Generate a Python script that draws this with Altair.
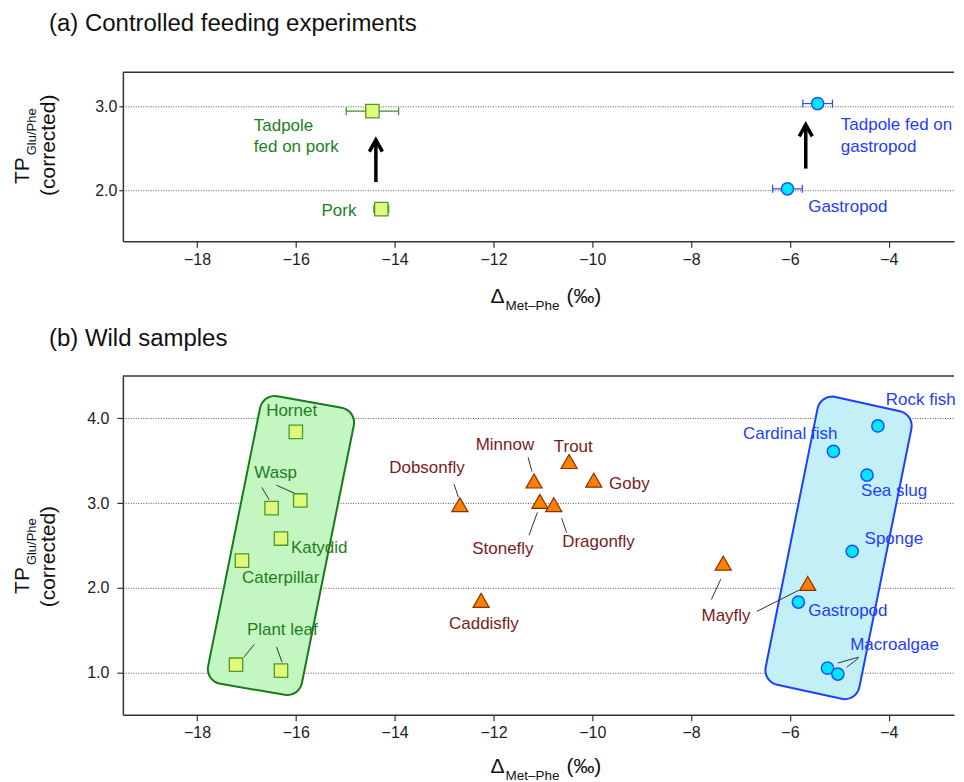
import math
import numpy as np
import pandas as pd
import altair as alt

FONT = "Liberation Sans"

# ---------------- data: panel (a) controlled feeding ----------------
a_names = ["Pork", "Tadpole fed on pork", "Gastropod", "Tadpole fed on gastropod"]
a_group = ["pork", "pork", "gastropod", "gastropod"]
a_x = [-14.27, -14.45, -6.05, -5.44]
a_xerr = [0.15, 0.53, 0.30, 0.30]
a_y = [1.78, 2.94, 2.02, 3.03]

arrow_x = [-14.38, -5.68]
arrow_base = [2.10, 2.26]
arrow_shaft_top = [2.57, 2.75]
arrow_tip = [2.60, 2.78]

a_lbl_text = ["Tadpole", "fed on pork", "Pork", "Tadpole fed on", "gastropod", "Gastropod"]
a_lbl_x = [-16.85, -16.85, -15.48, -4.97, -4.97, -5.63]
a_lbl_y = [2.77, 2.52, 1.76, 2.78, 2.52, 1.80]
a_lbl_group = ["pork", "pork", "pork", "gastropod", "gastropod", "gastropod"]

# ---------------- data: panel (b) wild samples ----------------
b_names = ["Hornet", "Wasp", "Wasp", "Katydid", "Caterpillar", "Plant leaf", "Plant leaf",
           "Dobsonfly", "Minnow", "Trout", "Goby", "Stonefly", "Dragonfly", "Caddisfly",
           "Mayfly", "Mayfly",
           "Rock fish", "Cardinal fish", "Sea slug", "Sponge", "Gastropod", "Macroalgae", "Macroalgae"]
b_group = ["terrestrial"] * 7 + ["freshwater"] * 9 + ["marine"] * 7
b_x = [-16.00, -16.49, -15.91, -16.30, -17.09, -17.21, -16.30,
       -12.68, -11.18, -10.47, -9.97, -11.06, -10.78, -12.25, -7.35, -5.64,
       -4.22, -5.12, -4.44, -4.74, -5.83, -5.24, -5.03]
b_y = [3.84, 2.94, 3.03, 2.58, 2.32, 1.09, 1.02,
       2.98, 3.26, 3.49, 3.27, 3.02, 2.98, 1.85, 2.29, 2.05,
       3.91, 3.61, 3.33, 2.43, 1.83, 1.05, 0.98]

b_lbl_text = ["Hornet", "Wasp", "Katydid", "Caterpillar", "Plant leaf",
              "Dobsonfly", "Minnow", "Trout", "Goby", "Stonefly", "Dragonfly", "Caddisfly", "Mayfly",
              "Rock fish", "Cardinal fish", "Sea slug", "Sponge", "Gastropod", "Macroalgae"]
b_lbl_group = ["terrestrial"] * 5 + ["freshwater"] * 8 + ["marine"] * 6
b_lbl_x = [-16.60, -16.84, -16.10, -17.09, -16.99,
           -14.11, -12.36, -10.78, -9.66, -12.43, -10.61, -12.90, -7.79,
           -4.06, -6.95, -4.56, -4.49, -5.63, -4.78]
b_lbl_y = [4.09, 3.36, 2.47, 2.12, 1.50,
           3.41, 3.68, 3.66, 3.23, 2.46, 2.54, 1.57, 1.67,
           4.22, 3.81, 3.14, 2.57, 1.73, 1.32]

# leader lines (x1, y1, x2, y2)
lead_x1 = [-16.69, -16.39, -16.84, -16.39, -12.80, -11.30, -11.11, -10.62, -7.40, -6.67, -5.03, -4.85]
lead_y1 = [3.185, 3.21, 1.33, 1.30, 3.225, 3.54, 2.89, 2.82, 2.10, 1.72, 1.11, 1.06]
lead_x2 = [-16.54, -16.01, -17.05, -16.28, -12.71, -11.22, -11.28, -10.52, -7.59, -5.82, -4.61, -4.61]
lead_y2 = [3.04, 3.11, 1.18, 1.12, 3.07, 3.37, 2.62, 2.65, 1.86, 1.97, 1.18, 1.17]

# enclosure corners (data units)
green_corners = [(-16.665, 4.292), (-14.766, 4.093), (-15.935, 0.706), (-17.836, 0.895)]
blue_corners = [(-5.381, 4.292), (-3.484, 4.047), (-4.655, 0.649), (-6.550, 0.890)]

# ---------------- styling ----------------
W = 832
XDOM = [-19.5, -2.68]
HA, HB = 169, 339
YDOM_A = [1.4, 3.4]
YDOM_B = [0.5, 4.5]
LBL = 17

TXT_COLORS = {"pork": "#1f7d1f", "terrestrial": "#1f7d1f",
              "freshwater": "#7a1c1c",
              "gastropod": "#1d3dff", "marine": "#1d3dff"}
ERR_COLORS = {"pork": "#3d8f2a", "gastropod": "#2a4fe8"}
AX = "#333333"

xscale = alt.Scale(domain=XDOM, nice=False, zero=False)
xaxis = alt.Axis(values=list(range(-18, -3, 2)), format="d", title=None, grid=False,
                 tickSize=6, tickColor=AX, tickWidth=1.2, domainColor=AX, domainWidth=1.5,
                 labelFont=FONT, labelFontSize=16, labelColor="#222", labelPadding=4)


def yaxis(vals, ts, lp):
    return alt.Axis(values=vals, format=".1f", title=None, grid=True, gridDash=[1, 1.5],
                    gridColor="#555", gridWidth=1, tickSize=ts, tickColor=AX, tickWidth=1.2,
                    domainColor=AX, domainWidth=1.5, labelFont=FONT, labelFontSize=16,
                    labelColor="#222", labelPadding=lp)


ya_scale = alt.Scale(domain=YDOM_A, nice=False, zero=False)
yb_scale = alt.Scale(domain=YDOM_B, nice=False, zero=False)
ya_axis = yaxis([2, 3], 4, 2)
yb_axis = yaxis([1, 2, 3, 4], 6, 8)


def XA(f):
    return alt.X(f, type="quantitative", scale=xscale, axis=xaxis)


def YA(f):
    return alt.Y(f, type="quantitative", scale=ya_scale, axis=ya_axis)


def YB(f):
    return alt.Y(f, type="quantitative", scale=yb_scale, axis=yb_axis)


def rounded(corners, r, sx, sy, n=10):
    P = np.array([[cx * sx, cy * sy] for cx, cy in corners])
    out = []
    m = len(P)
    for i in range(m):
        cur, prv, nxt = P[i], P[i - 1], P[(i + 1) % m]
        v1 = (prv - cur) / np.linalg.norm(prv - cur)
        v2 = (nxt - cur) / np.linalg.norm(nxt - cur)
        th = math.acos(float(np.clip(v1 @ v2, -1, 1)))
        d = r / math.tan(th / 2)
        t1 = cur + v1 * d
        t2 = cur + v2 * d
        bis = (v1 + v2) / np.linalg.norm(v1 + v2)
        c = cur + bis * (r / math.sin(th / 2))
        a1 = math.atan2(t1[1] - c[1], t1[0] - c[0])
        a2 = math.atan2(t2[1] - c[1], t2[0] - c[0])
        da = (a2 - a1 + math.pi) % (2 * math.pi) - math.pi
        for k in range(n + 1):
            a = a1 + da * k / n
            out.append(c + r * np.array([math.cos(a), math.sin(a)]))
    out.append(out[0])
    arr = np.array(out)
    return pd.DataFrame({"x": arr[:, 0] / sx, "y": arr[:, 1] / sy, "i": np.arange(len(arr))})


def txt(text, x, y, size, align="left", baseline="alphabetic", angle=0, color="#111"):
    kw = dict(text=text, font=FONT, fontSize=size, align=align, baseline=baseline, color=color)
    if angle:
        kw["angle"] = angle
    return alt.Chart(pd.DataFrame({"k": [0]})).mark_text(**kw).encode(x=alt.value(x), y=alt.value(y))


def frame_titles(title, title_y, H, ytitle, xt_dy):
    tp_top, sub_start, corr_c = ytitle
    return [
        txt(title, -74, title_y, 24),
        txt("TP", -93.5, tp_top, 21, align="right", angle=270),
        txt("Glu/Phe", -86.5, sub_start, 13, align="left", angle=270),
        txt("(corrected)", -68, corr_c, 21, align="center", angle=270),
        txt("\u0394", 368, H + xt_dy, 21),
        txt("Met\u2013Phe", 383, H + xt_dy + 7, 13.5),
        txt("(\u2030)", 444, H + xt_dy, 21),
    ]


# ---------------- panel (a) ----------------
dfa = pd.DataFrame({"name": a_names, "g": a_group, "x": a_x, "y": a_y,
                    "lo": [v - e for v, e in zip(a_x, a_xerr)],
                    "hi": [v + e for v, e in zip(a_x, a_xerr)]})
dfa["ec"] = dfa["g"].map(ERR_COLORS)
dfa_lbl = pd.DataFrame({"t": a_lbl_text, "x": a_lbl_x, "y": a_lbl_y, "g": a_lbl_group})
dfa_lbl["c"] = dfa_lbl["g"].map(TXT_COLORS)
dfarrow = pd.DataFrame({"x": arrow_x, "y0": arrow_base, "y1": arrow_shaft_top, "tip": arrow_tip})

top_a = alt.Chart(pd.DataFrame({"y": [YDOM_A[1]]})).mark_rule(color=AX, strokeWidth=1.5).encode(
    y=YA("y"), x=alt.value(0), x2=alt.value(W))

err_col = alt.Color("ec:N", scale=None)
a_err = alt.Chart(dfa).mark_rule(strokeWidth=1.2).encode(x=XA("lo"), x2="hi", y=YA("y"), color=err_col)
a_cap_lo = alt.Chart(dfa).mark_tick(orient="vertical", size=8, thickness=1.2, opacity=1).encode(
    x=XA("lo"), y=YA("y"), color=err_col)
a_cap_hi = alt.Chart(dfa).mark_tick(orient="vertical", size=8, thickness=1.2, opacity=1).encode(
    x=XA("hi"), y=YA("y"), color=err_col)
a_sq = alt.Chart(dfa[dfa.g == "pork"]).mark_point(shape="square", filled=True, size=180, fill="#e0f87c",
                                                  stroke="#4c9a2a", strokeWidth=1.3, opacity=1).encode(
    x=XA("x"), y=YA("y"))
a_ci = alt.Chart(dfa[dfa.g == "gastropod"]).mark_point(shape="circle", filled=True, size=150, fill="#00e8f8",
                                                       stroke="#2050ff", strokeWidth=1.5, opacity=1).encode(
    x=XA("x"), y=YA("y"))
a_shaft = alt.Chart(dfarrow).mark_rule(color="black", strokeWidth=3.5).encode(x=XA("x"), y=YA("y0"), y2="y1")
a_head = alt.Chart(dfarrow).mark_point(shape="M-1,1.8L0,0L1,1.8", filled=False, stroke="black",
                                       strokeWidth=3.5, size=170, opacity=1, strokeJoin="miter").encode(
    x=XA("x"), y=YA("tip"))
a_lbl = alt.Chart(dfa_lbl).mark_text(font=FONT, fontSize=LBL, align="left", baseline="middle").encode(
    x=XA("x"), y=YA("y"), text="t:N", color=alt.Color("c:N", scale=None))

chart_a = alt.layer(
    top_a, a_err, a_cap_lo, a_cap_hi, a_sq, a_ci, a_shaft, a_head, a_lbl,
    *frame_titles("(a) Controlled feeding experiments", -41.3, HA, (85, 83, 73), 62),
).properties(width=W, height=HA)

# ---------------- panel (b) ----------------
dfb = pd.DataFrame({"name": b_names, "g": b_group, "x": b_x, "y": b_y})
dfb_lbl = pd.DataFrame({"t": b_lbl_text, "g": b_lbl_group, "x": b_lbl_x, "y": b_lbl_y})
dfb_lbl["c"] = dfb_lbl["g"].map(TXT_COLORS)
dflead = pd.DataFrame({"x1": lead_x1, "y1": lead_y1, "x2": lead_x2, "y2": lead_y2})

sx = W / (XDOM[1] - XDOM[0])
sy = HB / (YDOM_B[1] - YDOM_B[0])
green_poly = rounded(green_corners, 15, sx, sy)
blue_poly = rounded(blue_corners, 15, sx, sy)

top_b = alt.Chart(pd.DataFrame({"y": [YDOM_B[1]]})).mark_rule(color=AX, strokeWidth=1.5).encode(
    y=YB("y"), x=alt.value(0), x2=alt.value(W))
g_reg = alt.Chart(green_poly).mark_line(fill="#c3f6c0", stroke="#1a7a1a", strokeWidth=2).encode(
    x=XA("x"), y=YB("y"), order="i:Q")
b_reg = alt.Chart(blue_poly).mark_line(fill="#c2f0f6", stroke="#1f3fff", strokeWidth=2).encode(
    x=XA("x"), y=YB("y"), order="i:Q")
leads = alt.Chart(dflead).mark_rule(color="#333", strokeWidth=1).encode(
    x=XA("x1"), y=YB("y1"), x2="x2", y2="y2")
b_sq = alt.Chart(dfb[dfb.g == "terrestrial"]).mark_point(shape="square", filled=True, size=180, fill="#e0f87c",
                                                         stroke="#4c9a2a", strokeWidth=1.3, opacity=1).encode(
    x=XA("x"), y=YB("y"))
b_tri = alt.Chart(dfb[dfb.g == "freshwater"]).mark_point(shape="triangle-up", filled=True, size=260,
                                                         fill="#ff7f00", stroke="#8a3300", strokeWidth=1.2,
                                                         opacity=1).encode(x=XA("x"), y=YB("y"))
b_ci = alt.Chart(dfb[dfb.g == "marine"]).mark_point(shape="circle", filled=True, size=150, fill="#00e8f8",
                                                    stroke="#2050ff", strokeWidth=1.5, opacity=1).encode(
    x=XA("x"), y=YB("y"))
b_lbl = alt.Chart(dfb_lbl).mark_text(font=FONT, fontSize=LBL, align="left", baseline="middle").encode(
    x=XA("x"), y=YB("y"), text="t:N", color=alt.Color("c:N", scale=None))

chart_b = alt.layer(
    top_b, g_reg, b_reg, leads, b_sq, b_tri, b_ci, b_lbl,
    *frame_titles("(b) Wild samples", -30, HB, (191.3, 189.3, 180.8), 58),
).properties(width=W, height=HB)

chart = alt.vconcat(chart_a, chart_b, spacing=14).properties(
    padding={"left": 4, "top": 3, "right": 0, "bottom": 0}
).configure_view(stroke=None)

chart.save("out.html", embed_options={"renderer": "svg", "actions": False})
